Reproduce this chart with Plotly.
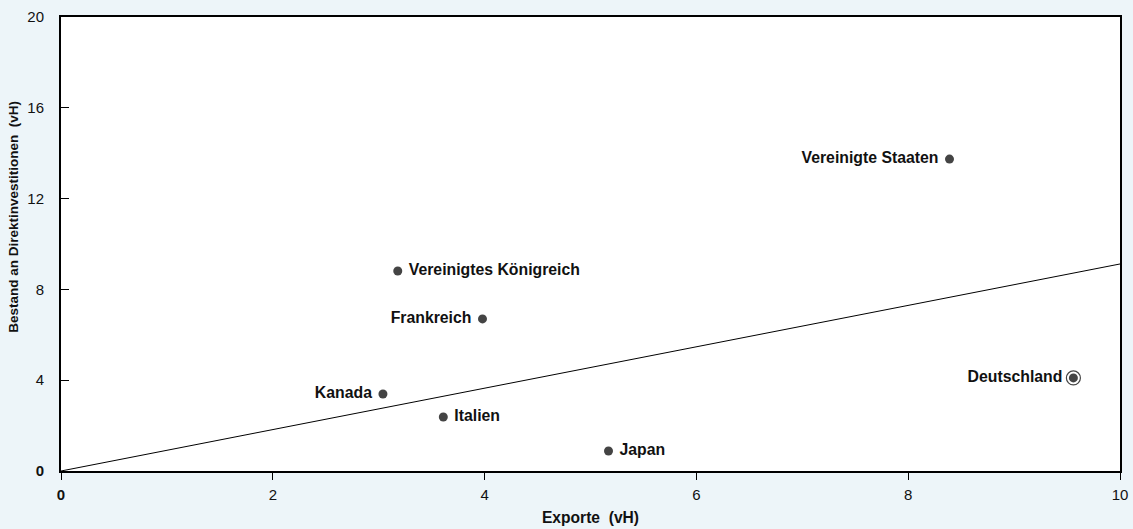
import plotly.graph_objects as go

laender = ['Vereinigte Staaten', 'Vereinigtes Königreich', 'Frankreich', 'Kanada',
           'Italien', 'Japan', 'Deutschland']
exporte = [8.39, 3.18, 3.98, 3.04, 3.61, 5.17, 9.56]
bestand = [13.74, 8.81, 6.70, 3.39, 2.38, 0.88, 4.10]
positionen = ['middle left', 'middle right', 'middle left', 'middle left',
              'middle right', 'middle right', 'middle left']

linie_x = [0, 10]
linie_y = [0, 9.12]

x_ticks = [0, 2, 4, 6, 8, 10]
y_ticks = [0, 4, 8, 12, 16, 20]

schrift = "Arial, Liberation Sans, sans-serif"
punkt = "#444444"

fig = go.Figure()

fig.add_trace(go.Scatter(
    x=linie_x, y=linie_y, mode='lines',
    line=dict(color='black', width=1), hoverinfo='skip', showlegend=False
))

# Deutschland mit Ring hervorgehoben
fig.add_trace(go.Scatter(
    x=exporte[-1:], y=bestand[-1:], mode='markers',
    marker=dict(size=14, color='white', line=dict(color=punkt, width=1.2)),
    hoverinfo='skip', showlegend=False
))

fig.add_trace(go.Scatter(
    x=exporte, y=bestand, mode='markers+text',
    text=[t + ' ' if p == 'middle left' else ' ' + t for t, p in zip(laender, positionen)],
    textposition=positionen,
    textfont=dict(family=schrift, size=15.8, color='#111111', weight='bold'),
    marker=dict(size=9, color=punkt),
    showlegend=False
))

fig.add_annotation(
    text='<b>Bestand an Direktinvestitionen\u00a0\u00a0(vH)</b>', textangle=-90,
    xref='paper', yref='paper', x=-0.0444, y=0.56,
    xanchor='center', yanchor='middle', showarrow=False,
    font=dict(family=schrift, size=13.5, color='#111111')
)

fig.update_layout(
    width=1133, height=529,
    paper_bgcolor='#EDF5F9', plot_bgcolor='white',
    margin=dict(l=61, r=13, t=17, b=58),
    font=dict(family=schrift, size=15, color='#111111'),
    xaxis=dict(
        range=[0, 10], tickvals=x_ticks, automargin=False,
        ticktext=['<b>0</b>'] + [str(v) for v in x_ticks[1:]],
        ticks='outside', ticklen=7, tickcolor='black', ticklabelstandoff=2,
        showline=True, linecolor='black', linewidth=2, mirror=True,
        showgrid=False, zeroline=False,
        title=dict(text='<b>Exporte\u00a0\u00a0(vH)</b>', font=dict(size=15.6), standoff=10)
    ),
    yaxis=dict(
        range=[0, 20], tickvals=y_ticks, automargin=False,
        ticktext=['<b>0</b>'] + [str(v) for v in y_ticks[1:]],
        ticks='inside', ticklen=8, tickcolor='black', ticklabelstandoff=12,
        showline=True, linecolor='black', linewidth=2, mirror=True,
        showgrid=False, zeroline=False
    )
)

fig.write_html("out.html", config={'displayModeBar': False},
               post_script="document.body.style.margin='0';")
